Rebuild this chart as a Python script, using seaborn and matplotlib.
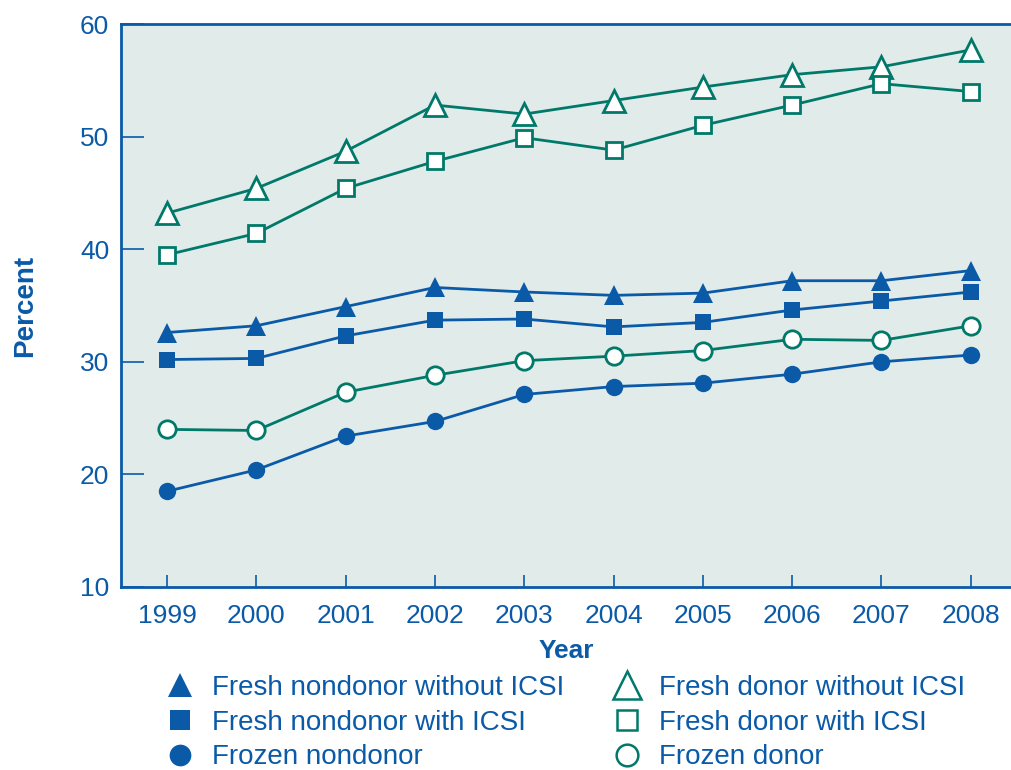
import pandas as pd
import seaborn as sns
import matplotlib.pyplot as plt
from matplotlib.lines import Line2D

# data
years = [1999, 2000, 2001, 2002, 2003, 2004, 2005, 2006, 2007, 2008]
fresh_nondonor_no_icsi = [32.6, 33.2, 34.9, 36.6, 36.2, 35.9, 36.1, 37.2, 37.2, 38.1]
fresh_nondonor_icsi = [30.2, 30.3, 32.3, 33.7, 33.8, 33.1, 33.5, 34.6, 35.4, 36.2]
frozen_nondonor = [18.5, 20.4, 23.4, 24.7, 27.1, 27.8, 28.1, 28.9, 30.0, 30.6]
fresh_donor_no_icsi = [43.2, 45.4, 48.7, 52.8, 52.0, 53.2, 54.4, 55.5, 56.2, 57.7]
fresh_donor_icsi = [39.5, 41.4, 45.4, 47.8, 49.9, 48.8, 51.0, 52.8, 54.7, 54.0]
frozen_donor = [24.0, 23.9, 27.3, 28.8, 30.1, 30.5, 31.0, 32.0, 31.9, 33.2]

series_names = [
    "Fresh nondonor without ICSI",
    "Fresh nondonor with ICSI",
    "Frozen nondonor",
    "Fresh donor without ICSI",
    "Fresh donor with ICSI",
    "Frozen donor",
]
series_values = [
    fresh_nondonor_no_icsi, fresh_nondonor_icsi, frozen_nondonor,
    fresh_donor_no_icsi, fresh_donor_icsi, frozen_donor,
]

BLUE = "#0a5aa8"
GREEN = "#00796a"
BG = "#e1ebe9"

# marker, size, filled, colour
styles = [
    ("^", 14, True, BLUE),
    ("s", 11, True, BLUE),
    ("o", 12.5, True, BLUE),
    ("^", 16, False, GREEN),
    ("s", 12, False, GREEN),
    ("o", 12.5, False, GREEN),
]


def main():
    df = pd.DataFrame(
        [(y, v, name) for name, vals in zip(series_names, series_values) for y, v in zip(years, vals)],
        columns=["Year", "Percent", "series"],
    )

    sns.set_style("white")
    plt.rcParams["font.family"] = ["Liberation Sans", "DejaVu Sans"]

    fig = plt.figure(figsize=(10.11, 7.7), dpi=100)
    ax = fig.add_axes([121 / 1011, 183 / 770, 1 - 121 / 1011, 563 / 770])
    ax.set_facecolor(BG)

    handles = []
    for name, (marker, ms, filled, color) in zip(series_names, styles):
        sub = df[df["series"] == name]
        face = color if filled else "white"
        sns.lineplot(
            data=sub, x="Year", y="Percent", ax=ax, color=color, lw=2,
            marker=marker, markersize=ms, markerfacecolor=face,
            markeredgecolor=color, markeredgewidth=0 if filled else 2,
            zorder=3,
        )
        handles.append(Line2D([], [], ls="none", marker=marker, markersize=ms * 1.25,
                              markerfacecolor=face, markeredgecolor=color,
                              markeredgewidth=0 if filled else 1.8))

    ax.set_xlim(1998.485, 2008.45)
    ax.set_ylim(10, 60)
    ax.set_xticks(years)
    ax.set_yticks([10, 20, 30, 40, 50, 60])

    for side in ["left", "bottom", "top"]:
        ax.spines[side].set_color(BLUE)
        ax.spines[side].set_linewidth(2)
    ax.spines["right"].set_visible(False)

    ax.tick_params(axis="y", direction="in", length=16.5, width=1.2, color=BLUE,
                   labelcolor=BLUE, labelsize=19, pad=8.5, left=True)
    ax.tick_params(axis="x", direction="in", length=8.5, width=1.2, color=BLUE,
                   labelcolor=BLUE, labelsize=19, pad=12, bottom=True)

    ax.set_xlabel("Year", color=BLUE, fontsize=19, fontweight="bold", labelpad=8)
    ax.set_ylabel("Percent", color=BLUE, fontsize=20, fontweight="bold", labelpad=30)

    leg = fig.legend(
        handles, series_names, ncol=2, loc="upper left",
        bbox_to_anchor=(163 / 1011, 1 - 675 / 770), frameon=False,
        fontsize=20, borderpad=0, borderaxespad=0, handlelength=1.2,
        handletextpad=0.55, columnspacing=1.67, labelspacing=0.31,
    )
    for t in leg.get_texts():
        t.set_color(BLUE)

    fig.savefig("out.png", dpi=100)
    plt.close(fig)


if __name__ == "__main__":
    main()
